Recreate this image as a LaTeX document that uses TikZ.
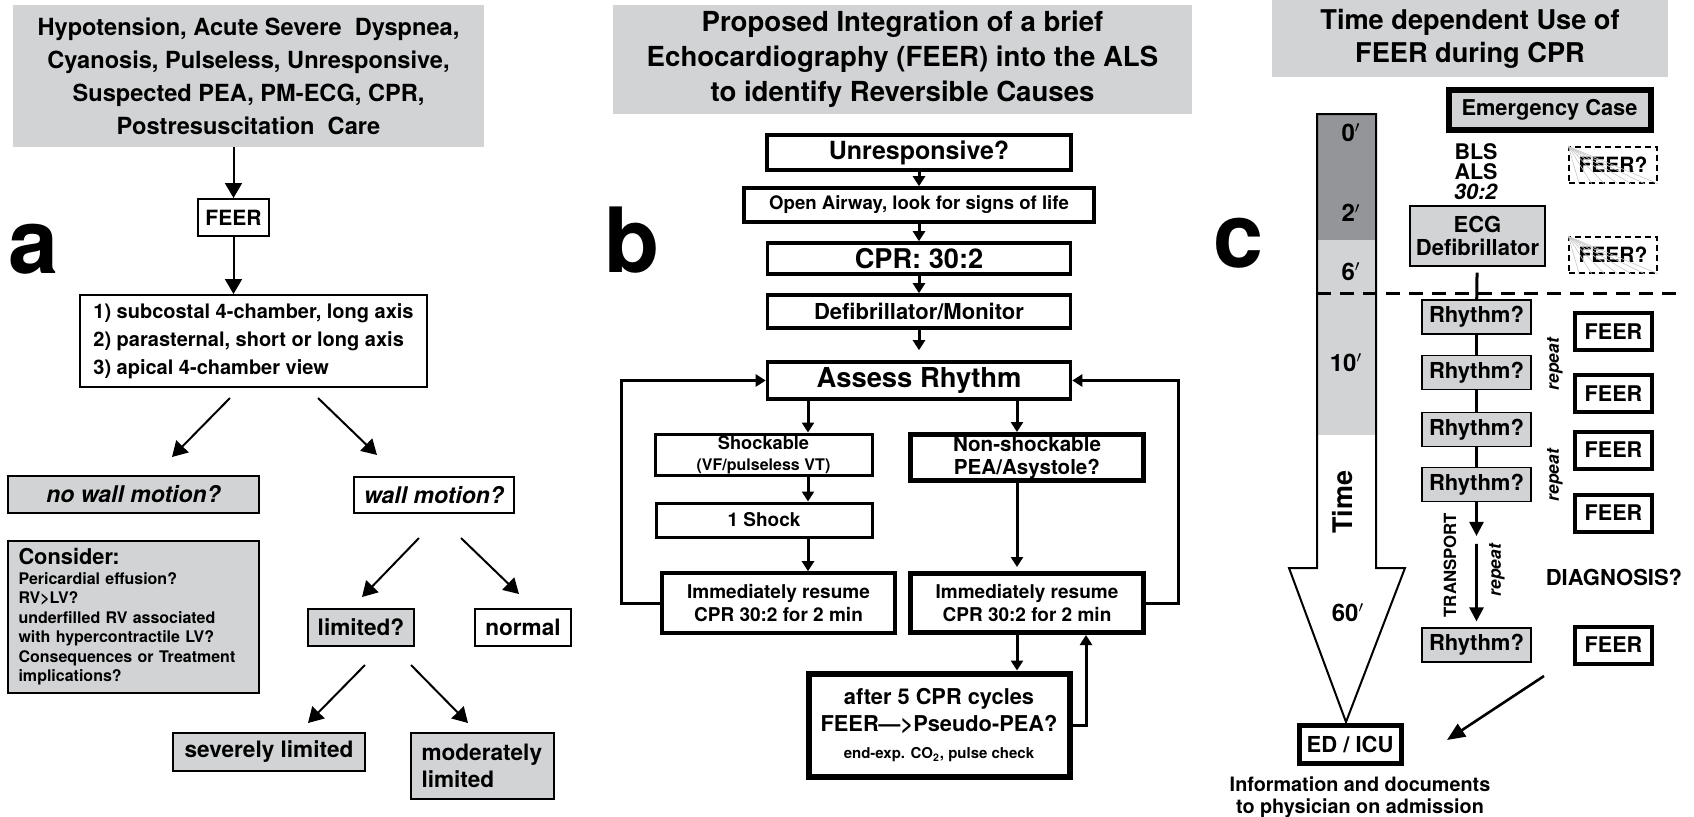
\documentclass[tikz,border=0pt]{standalone}
\usepackage{fontspec}
\setmainfont{TeX Gyre Heros}
\usetikzlibrary{arrows.meta,positioning,calc}
\definecolor{boxgray}{HTML}{D1D3D4}
\definecolor{bardark}{HTML}{939598}
\newcommand{\fsz}[2]{\fontsize{#1}{#2}\selectfont}

\begin{document}
\begin{tikzpicture}[
        x=0.5pt, y=-0.5pt,
        every node/.style = {inner sep=0pt, align=center, font=\bfseries},
        box/.style = {draw, line width=1pt, fill=white},
        graybox/.style = {box, fill=boxgray},
        head/.style = {fill=boxgray},
        thinbox/.style = {draw, line width=0.6pt, fill=boxgray},
        rhythm/.style = {thinbox, minimum width=54.5pt, minimum height=17pt, font=\fsz{11}{12}\bfseries},
        feerbox/.style = {draw, line width=2pt, fill=white, minimum width=38.5pt, minimum height=18.5pt, font=\fsz{10.8}{12}\bfseries},
        guess/.style = {draw, line width=0.6pt, dash pattern=on 3pt off 2pt, minimum width=44pt, minimum height=18pt, font=\fsz{10.5}{12}\bfseries},
        arrA/.style = {line width=1pt, -{Triangle[length=7.5pt, width=8.5pt]}},
        arrB/.style = {line width=1.5pt, -{Triangle[length=5pt, width=6pt]}},
        arrC/.style = {line width=1.3pt, -{Triangle[length=7pt, width=7pt]}},
        link/.style = {line width=1.5pt},
        letter/.style = {anchor=base west, font=\fontsize{45}{45}\selectfont\bfseries},
        tick/.style = {font=\fsz{12}{12}\bfseries}
    ]
    \useasboundingbox (0,0) rectangle (1694,816);

    % ---------- panel a ----------
    \node[letter] (labA) at (8,273) {a};
    \node[head, minimum width=235.5pt, minimum height=71pt, font=\fsz{11.8}{16.5}\bfseries] (headA) at (248.5,76) {
        Hypotension, Acute Severe\ \ Dyspnea,\\
        Cyanosis, Pulseless, Unresponsive,\\
        Suspected PEA, PM-ECG, CPR,\\
        Postresuscitation\ \ Care
    };
    \node[box, minimum width=35.5pt, minimum height=18.5pt, font=\fsz{10.5}{12}\bfseries] (feerA) at (233.5,217.5) {FEER};
    \node[box, minimum width=173.5pt, minimum height=46pt, align=left, font=\fsz{10}{14}\bfseries] (views) at (253.5,341) {
        1) subcostal 4-chamber, long axis\\
        2) parasternal, short or long axis\\
        3) apical 4-chamber view
    };
    \node[graybox, minimum width=125.5pt, minimum height=18.5pt, font=\fsz{11.5}{13}\bfseries\itshape] (nowall) at (133.5,494.5) {no wall motion?};
    \node[box, minimum width=80pt, minimum height=18pt, font=\fsz{11.5}{13}\bfseries\itshape] (wallm) at (434,495) {wall motion?};
    \node[graybox, text width=115pt, inner xsep=5.25pt, minimum height=76pt, align=left, font=\fsz{8}{9.75}\bfseries] (consider) at (133.5,617) {
        {\fsz{10.9}{13}\bfseries Consider:}\\
        Pericardial effusion?\\
        RV>LV?\\
        underfilled RV associated\\
        with hypercontractile LV?\\
        Consequences or Treatment\\
        implications?
    };
    \node[graybox, minimum width=53pt, minimum height=18.5pt, font=\fsz{11.3}{13}\bfseries] (limited) at (361,627.5) {limited?};
    \node[box, minimum width=48pt, minimum height=18.5pt, font=\fsz{11.3}{13}\bfseries] (normal) at (523,627.5) {normal};
    \node[graybox, minimum width=96pt, minimum height=19pt, font=\fsz{11.3}{13}\bfseries] (severe) at (269,752) {severely limited};
    \node[graybox, text width=61pt, inner xsep=5.25pt, minimum height=33pt, align=left, font=\fsz{11.3}{13.5}\bfseries] (moderate) at (482.5,766) {moderately\\limited};

    \draw[arrA] (feerA.north |- headA.south) -- (feerA.north);
    \draw[arrA] (feerA) -- (feerA |- views.north);

    \coordinate (vL) at (230,398);
    \coordinate (vR) at (318,398);
    \coordinate (nwTip) at (172,457);
    \coordinate (wmTip) at (377,455);
    \coordinate (wL) at (419,538);
    \coordinate (wR) at (461,538);
    \coordinate (limTip) at (362,597);
    \coordinate (norTip) at (519,594);
    \coordinate (lL) at (365,665);
    \coordinate (lR) at (411,665);
    \coordinate (sevTip) at (308,723);
    \coordinate (modTip) at (468,723);
    \draw[arrA] (vL) -- (nwTip);
    \draw[arrA] (vR) -- (wmTip);
    \draw[arrA] (wL) -- (limTip);
    \draw[arrA] (wR) -- (norTip);
    \draw[arrA] (lL) -- (sevTip);
    \draw[arrA] (lR) -- (modTip);

    % ---------- panel b ----------
    \node[letter] (labB) at (604,272) {b};
    \node[head, minimum width=289.5pt, minimum height=54.5pt, font=\fsz{13.8}{17.5}\bfseries] (headB) at (902.5,59.5) {
        Proposed Integration of a brief\\
        Echocardiography (FEER) into the ALS\\
        to identify Reversible Causes
    };
    \node[box, line width=1.8pt, minimum width=152pt, minimum height=17.5pt, font=\fsz{12.5}{14}\bfseries] (unresp) at (919,152.5) {Unresponsive?};
    \node[box, line width=1.8pt, minimum width=175pt, minimum height=17pt, font=\fsz{9.3}{11}\bfseries] (airway) at (919,205) {Open Airway, look for signs of life};
    \node[box, line width=1.8pt, minimum width=151.5pt, minimum height=15.5pt, font=\fsz{13.6}{15}\bfseries] (cpr) at (919,258.5) {CPR: 30:2};
    \node[box, line width=1.8pt, minimum width=151.5pt, minimum height=16.5pt, font=\fsz{11}{13}\bfseries] (defib) at (919,311.5) {Defibrillator/Monitor};
    \node[box, line width=1.8pt, minimum width=151.5pt, minimum height=18.5pt, font=\fsz{13.7}{15}\bfseries] (assess) at (919,380.5) {Assess Rhythm};
    \node[box, line width=1.5pt, minimum width=108.5pt, minimum height=20.5pt, font=\fsz{9.1}{10.5}\bfseries] (shock) at (763.5,454.5) {
        Shockable\\{\fsz{8}{10}\bfseries (VF/pulseless VT)}
    };
    \node[box, line width=2.5pt, minimum width=116.5pt, minimum height=23pt, font=\fsz{10.3}{11.5}\bfseries] (nonshock) at (1027,457.5) {
        Non-shockable\\PEA/Asystole?
    };
    \node[box, line width=1.5pt, minimum width=108pt, minimum height=17pt, font=\fsz{9.5}{11}\bfseries] (oneshock) at (764,520) {1 Shock};
    \node[box, line width=1.8pt, minimum width=116.5pt, minimum height=30pt, font=\fsz{9.5}{11.5}\bfseries] (immL) at (778.5,603) {
        Immediately resume\\CPR 30:2 for 2 min
    };
    \node[box, line width=2.5pt, minimum width=116.5pt, minimum height=29.5pt, font=\fsz{9.5}{11.5}\bfseries] (immR) at (1027,603) {
        Immediately resume\\CPR 30:2 for 2 min
    };
    \node[box, line width=3pt, minimum width=130.5pt, minimum height=51.5pt, font=\fsz{10.9}{13.5}\bfseries] (after5) at (939,725) {
        after 5 CPR cycles\\
        FEER—>Pseudo-PEA?\\
        {\fsz{7.5}{11}\bfseries end-exp. CO\textsubscript{2}, pulse check}
    };

    \coordinate (colL) at (808,0);
    \coordinate (colR) at (1017,0);
    \coordinate (colF) at (1086,0);
    \coordinate (loopL) at (621,0);
    \coordinate (loopR) at (1178,0);

    \draw[arrB] (unresp) -- (airway);
    \draw[arrB] (airway) -- (cpr);
    \draw[arrB] (cpr) -- (defib);
    \draw[arrB, shorten >=5pt] (defib) -- (assess);
    \draw[arrB] (assess.south -| colL) -- (shock.north -| colL);
    \draw[arrB] (shock.south -| colL) -- (oneshock.north -| colL);
    \draw[arrB] (oneshock.south -| colL) -- (immL.north -| colL);
    \draw[arrB] (assess.south -| colR) -- (nonshock.north -| colR);
    \draw[arrB, shorten >=2pt] (nonshock.south -| colR) -- (immR.north -| colR);
    \draw[arrB] (immR.south -| colR) -- (after5.north -| colR);
    \draw[arrB] (after5.east) -| (immR.south -| colF);
    \draw[arrB] (immL.west) -| (loopL |- assess.west) -- (assess.west);
    \draw[arrB] (immR.east) -| (loopR |- assess.east) -- (assess.east);

    % ---------- panel c ----------
    \node[letter] (labC) at (1213,267) {c};
    \node[head, minimum width=198pt, minimum height=38.5pt, font=\fsz{13.6}{16.5}\bfseries] (headC) at (1470,38.5) {
        Time dependent Use of\\FEER during CPR
    };

    % time bar
    \fill[bardark] (1317,114) rectangle (1376,240);
    \fill[boxgray] (1317,240) rectangle (1376,435);
    \draw[line width=1pt] (1317,114) -- (1376,114) -- (1376,568) -- (1405,568)
        -- (1346,722) -- (1289,568) -- (1317,568) -- cycle;
    \node[tick] (t0) at (1351,133) {0$'$};
    \node[tick] (t2) at (1351,213) {2$'$};
    \node[tick] (t6) at (1351,272) {6$'$};
    \node[tick] (t10) at (1346,363) {10$'$};
    \node[rotate=90, font=\fsz{13.5}{14}\bfseries] (timeL) at (1343,502) {Time};
    \node[tick] (t60) at (1348,613) {60$'$};
    \draw[line width=1.5pt, dash pattern=on 7pt off 4.5pt] (1317,293) -- (1680,293);

    \node[thinbox, line width=3pt, minimum width=101pt, minimum height=20pt, font=\fsz{10.9}{12}\bfseries] (emerg) at (1549.5,109.5) {Emergency Case};
    \node[font=\fsz{10.75}{10}\bfseries] (bls) at (1476,172) {BLS\\ALS\\\textit{30:2}};
    \node[guess] (fq1) at (1613,165) {FEER?};
    \node[guess] (fq2) at (1613,255) {FEER?};
    \foreach \q in {fq1,fq2}{
        \foreach \k in {0.12,0.26,0.4,0.55,0.7,0.85,1}
            \draw[gray!45, line width=0.3pt] (\q.north west) -- ($(\q.south west)!\k!(\q.south east)$);
    }
    \node[thinbox, minimum width=67.5pt, minimum height=30pt, font=\fsz{11}{11.7}\bfseries] (ecg) at (1477.5,236) {ECG\\Defibrillator};

    \node[rhythm] (r1) at (1476.5,317) {Rhythm?};
    \node[rhythm] (r2) at (1476.5,372.5) {Rhythm?};
    \node[rhythm] (r3) at (1476.5,429.5) {Rhythm?};
    \node[rhythm] (r4) at (1476.5,484.5) {Rhythm?};
    \node[rhythm] (r5) at (1476.5,645) {Rhythm?};
    \node[feerbox] (f1) at (1613.5,331.5) {FEER};
    \node[feerbox] (f2) at (1613.5,393.5) {FEER};
    \node[feerbox] (f3) at (1613.5,450) {FEER};
    \node[feerbox] (f4) at (1613.5,513) {FEER};
    \node[feerbox] (f5) at (1613.5,645) {FEER};

    \draw[link, shorten <=3pt] (ecg) -- (r1);
    \draw[link] (r1) -- (r2);
    \draw[link] (r2) -- (r3);
    \draw[link] (r3) -- (r4);
    \coordinate (tmid) at ($(r4.south)!0.27!(r5.north)$);
    \draw[arrC] (r4) -- (tmid);
    \draw[arrC, shorten <=4pt, shorten >=3pt] (tmid) -- (r5);

    \node[rotate=90, font=\fsz{8.7}{10}\bfseries\itshape] (rep1) at (1555,364) {repeat};
    \node[rotate=90, font=\fsz{8.7}{10}\bfseries\itshape] (rep2) at (1555,475) {repeat};
    \node[rotate=90, font=\fsz{8.7}{10}\bfseries\itshape] (rep3) at (1497,570) {repeat};
    \node[rotate=90, font=\fsz{8.4}{10}\bfseries] (transp) at (1450,565) {TRANSPORT};
    \node[font=\fsz{11}{12}\bfseries] (diag) at (1614,577) {DIAGNOSIS?};

    \node[box, line width=2.5pt, minimum width=51pt, minimum height=19pt, font=\fsz{11}{12}\bfseries] (edicu) at (1350,744.5) {ED / ICU};
    \node[below=5pt of edicu, xshift=5pt, font=\fsz{9.9}{11}\bfseries] (info) {
        Information and documents\\to physician on admission
    };
    \coordinate (dgStart) at (1544,676);
    \coordinate (dgTip) at (1447,740);
    \draw[arrC, -{Triangle[length=9pt, width=7.5pt]}] (dgStart) -- (dgTip);

\end{tikzpicture}
\end{document}
